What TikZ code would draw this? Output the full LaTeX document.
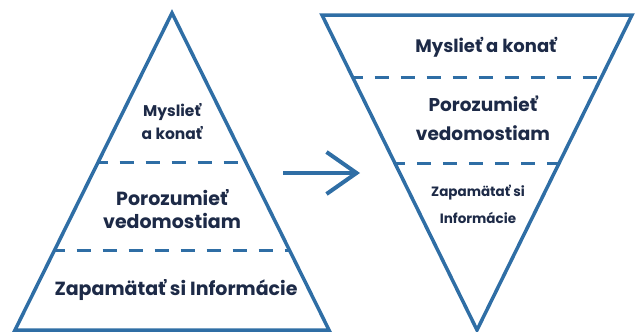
\documentclass[tikz,border=0pt]{standalone}
\usepackage{fontspec}
\setmainfont{Poppins}
\usepackage{tikz}
\usetikzlibrary{arrows.meta, calc, positioning}
\definecolor{edgeblue}{HTML}{2F6EA5}
\definecolor{textnavy}{HTML}{1D2A47}
\tikzstyle{level}  = [line width=3.5pt, draw=edgeblue, line join=miter]
\tikzstyle{split}  = [line width=3pt, draw=edgeblue, dash pattern=on 14pt off 12pt, dash phase=4pt]
\tikzstyle{label}  = [text=textnavy, font=\bfseries, align=center, inner sep=0pt]
\tikzstyle{arrow}  = [line width=4pt, draw=edgeblue, -{Straight Barb[length=30pt, width=42pt]}]

\begin{document}
\begin{tikzpicture}[x=1pt, y=-1pt]
    \useasboundingbox (0,0) rectangle (635,332);

    % pyramid
    \coordinate (ltop) at (172,13);
    \coordinate (lbl)  at (15,330);
    \coordinate (lbr)  at (329,330);
    \draw[level] (ltop) -- (lbr) -- (lbl) -- cycle;
    \draw[split] ($(ltop)!0.473!(lbl)$) -- ($(ltop)!0.473!(lbr)$);
    \draw[split] ($(ltop)!0.748!(lbl)$) -- ($(ltop)!0.748!(lbr)$);

    \node[label, font=\bfseries\fontsize{15.5}{23}\selectfont] (lthink) at (172,122) {Myslieť\\a konať};
    \node[label, font=\bfseries\fontsize{19}{23}\selectfont] (lunder) at (172,209) {Porozumieť\\vedomostiam};
    \node[label, font=\bfseries\fontsize{19}{23}\selectfont] (lremem) at (176,290) {Zapamätať si Informácie};

    % inverted pyramid
    \coordinate (rtl)  at (322,15);
    \coordinate (rtr)  at (632,15);
    \coordinate (rbot) at (477,330);
    \draw[level] (rtl) -- (rtr) -- (rbot) -- cycle;
    \draw[split] ($(rbot)!0.803!(rtl)$) -- ($(rbot)!0.803!(rtr)$);
    \draw[split] ($(rbot)!0.530!(rtl)$) -- ($(rbot)!0.530!(rtr)$);

    \node[label, font=\bfseries\fontsize{18}{23}\selectfont] (rthink) at (486,47) {Myslieť a konať};
    \node[label, font=\bfseries\fontsize{18.5}{29}\selectfont] (runder) at (483,118) {Porozumieť\\vedomostiam};
    \node[label, font=\bfseries\fontsize{13.5}{27}\selectfont] (rremem) at (478,204) {Zapamätať si\\Informácie};

    % shift
    \coordinate (from) at (283,173);
    \coordinate (to)   at (360,173);
    \draw[arrow] (from) -- (to);
\end{tikzpicture}
\end{document}
